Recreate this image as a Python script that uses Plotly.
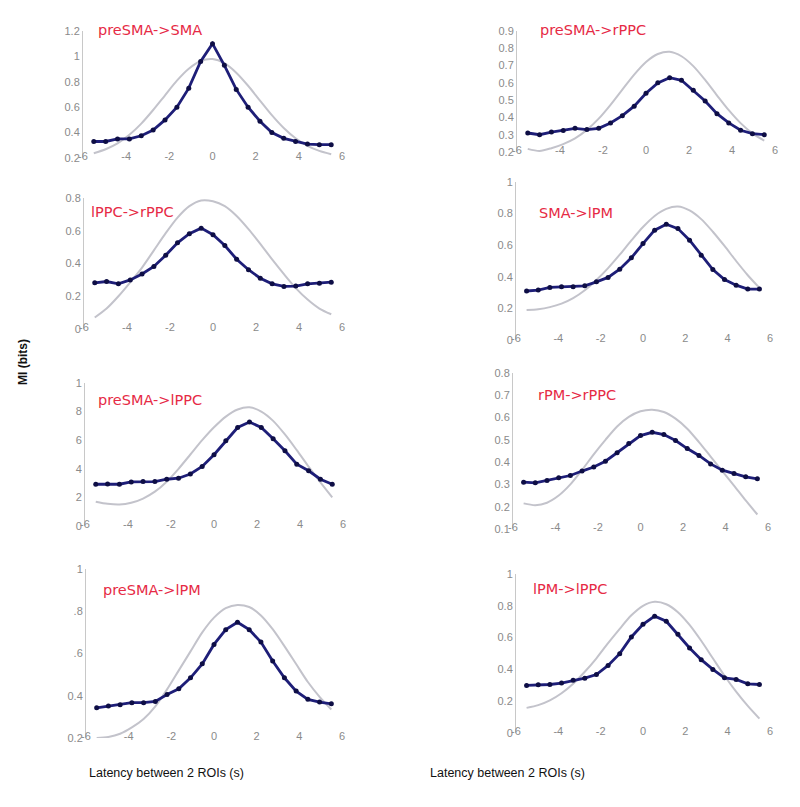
import plotly.graph_objects as go

W, H = 800, 807
OFF = 8  # the page body adds an 8 px margin around the figure

# Latency values (s) of the sampled points
latency = [-5.5, -4.95, -4.4, -3.85, -3.3, -2.75, -2.2, -1.65, -1.1, -0.55, 0.0,
           0.55, 1.1, 1.65, 2.2, 2.75, 3.3, 3.85, 4.4, 4.95, 5.5]

titles = ["preSMA->SMA", "preSMA->rPPC", "lPPC->rPPC", "SMA->lPM",
          "preSMA->lPPC", "rPM->rPPC", "preSMA->lPM", "lPM->lPPC"]

# MI (bits), measured (dark blue, with markers)
mi_presma_sma = [0.33, 0.33, 0.35, 0.35, 0.375, 0.42, 0.50, 0.60, 0.75, 0.96, 1.10,
                 0.93, 0.74, 0.60, 0.49, 0.40, 0.355, 0.33, 0.31, 0.305, 0.305]
mi_presma_rppc = [0.31, 0.30, 0.315, 0.325, 0.337, 0.33, 0.337, 0.368, 0.41, 0.465, 0.54,
                  0.60, 0.63, 0.615, 0.557, 0.495, 0.422, 0.368, 0.326, 0.306, 0.30]
mi_lppc_rppc = [0.282, 0.29, 0.276, 0.30, 0.336, 0.382, 0.45, 0.526, 0.582, 0.616, 0.576,
                0.51, 0.426, 0.362, 0.31, 0.276, 0.26, 0.262, 0.276, 0.28, 0.286]
mi_sma_lpm = [0.31, 0.316, 0.333, 0.337, 0.337, 0.343, 0.368, 0.396, 0.448, 0.52, 0.61,
              0.695, 0.733, 0.705, 0.632, 0.537, 0.446, 0.383, 0.347, 0.322, 0.322]
mi_presma_lppc = [0.292, 0.294, 0.292, 0.308, 0.311, 0.311, 0.327, 0.334, 0.364, 0.416, 0.498,
                  0.596, 0.689, 0.727, 0.689, 0.61, 0.526, 0.432, 0.386, 0.327, 0.292]
mi_rpm_rppc = [0.31, 0.307, 0.318, 0.33, 0.34, 0.36, 0.378, 0.404, 0.442, 0.484, 0.519,
               0.534, 0.524, 0.497, 0.461, 0.43, 0.392, 0.364, 0.349, 0.334, 0.325]
mi_presma_lpm = [0.343, 0.351, 0.357, 0.367, 0.367, 0.373, 0.406, 0.433, 0.485, 0.551, 0.643,
                 0.713, 0.748, 0.713, 0.654, 0.564, 0.485, 0.422, 0.383, 0.37, 0.362]
mi_lpm_lppc = [0.299, 0.303, 0.305, 0.314, 0.331, 0.345, 0.368, 0.425, 0.499, 0.604, 0.684,
               0.735, 0.703, 0.621, 0.535, 0.461, 0.40, 0.347, 0.337, 0.309, 0.305]

# MI (bits), reference curves (light grey, smooth)
ref_presma_sma = [0.238, 0.269, 0.315, 0.383, 0.471, 0.578, 0.694, 0.809, 0.903, 0.964, 0.979,
                  0.947, 0.872, 0.769, 0.652, 0.537, 0.436, 0.355, 0.296, 0.256, 0.23]
ref_presma_rppc = [0.218, 0.206, 0.222, 0.246, 0.279, 0.328, 0.393, 0.473, 0.561, 0.648, 0.721,
                   0.767, 0.78, 0.754, 0.697, 0.617, 0.528, 0.442, 0.367, 0.308, 0.266]
ref_lppc_rppc = [0.07, 0.125, 0.20, 0.285, 0.375, 0.48, 0.585, 0.68, 0.75, 0.785, 0.78,
                 0.75, 0.69, 0.61, 0.52, 0.425, 0.335, 0.25, 0.18, 0.125, 0.09]
ref_sma_lpm = [0.19, 0.195, 0.208, 0.23, 0.265, 0.315, 0.38, 0.455, 0.54, 0.63, 0.715,
               0.785, 0.83, 0.845, 0.82, 0.765, 0.685, 0.595, 0.50, 0.41, 0.33]
ref_presma_lppc = [0.17, 0.155, 0.15, 0.162, 0.192, 0.24, 0.31, 0.40, 0.50, 0.60, 0.69,
                   0.765, 0.815, 0.83, 0.80, 0.735, 0.64, 0.53, 0.415, 0.305, 0.20]
ref_rpm_rppc = [0.215, 0.207, 0.218, 0.25, 0.30, 0.365, 0.435, 0.50, 0.56, 0.603, 0.628,
                0.635, 0.625, 0.595, 0.55, 0.49, 0.425, 0.36, 0.295, 0.228, 0.165]
ref_presma_lpm = [0.20, 0.205, 0.22, 0.25, 0.29, 0.35, 0.43, 0.52, 0.61, 0.70, 0.77,
                  0.815, 0.83, 0.82, 0.78, 0.715, 0.635, 0.55, 0.465, 0.395, 0.335]
ref_lpm_lppc = [0.158, 0.175, 0.205, 0.25, 0.31, 0.385, 0.47, 0.565, 0.655, 0.74, 0.80,
                0.825, 0.81, 0.76, 0.68, 0.58, 0.47, 0.36, 0.26, 0.17, 0.09]

measured = [mi_presma_sma, mi_presma_rppc, mi_lppc_rppc, mi_sma_lpm,
            mi_presma_lppc, mi_rpm_rppc, mi_presma_lpm, mi_lpm_lppc]
reference = [ref_presma_sma, ref_presma_rppc, ref_lppc_rppc, ref_sma_lpm,
             ref_presma_lppc, ref_rpm_rppc, ref_presma_lpm, ref_lpm_lppc]

x_tickvals = [-6, -4, -2, 0, 2, 4, 6]
y_ticks = [
    ([0.2, 0.4, 0.6, 0.8, 1.0, 1.2], ["0.2", "0.4", "0.6", "0.8", "1", "1.2"]),
    ([0.2, 0.3, 0.4, 0.5, 0.6, 0.7, 0.8, 0.9], ["0.2", "0.3", "0.4", "0.5", "0.6", "0.7", "0.8", "0.9"]),
    ([0, 0.2, 0.4, 0.6, 0.8], ["0", "0.2", "0.4", "0.6", "0.8"]),
    ([0, 0.2, 0.4, 0.6, 0.8, 1.0], ["0", "0.2", "0.4", "0.6", "0.8", "1"]),
    ([0, 0.2, 0.4, 0.6, 0.8, 1.0], ["0", "2", "4", "6", "8", "1"]),
    ([0.1, 0.2, 0.3, 0.4, 0.5, 0.6, 0.7, 0.8], ["0.1", "0.2", "0.3", "0.4", "0.5", "0.6", "0.7", "0.8"]),
    ([0.2, 0.4, 0.6, 0.8, 1.0], ["0.2", "0.4", ".6", ".8", "1"]),
    ([0, 0.2, 0.4, 0.6, 0.8, 1.0], ["0", "0.2", "0.4", "0.6", "0.8", "1"]),
]

# panel geometry in page pixels: (x_left, x_right, y_top, y_bottom)
boxes = [
    (83, 342, 31, 158), (517, 775, 31, 152),
    (84, 342, 198, 329), (516, 770, 182, 340),
    (85, 343, 383, 526), (513, 768, 373, 529),
    (86, 342, 569, 738), (516, 770, 574, 733),
]
# title positions (left x, centre y) in page pixels
title_pos = [(97, 30), (539, 30), (90, 212), (538, 213),
             (97, 400), (537, 395), (102, 590), (532, 589)]


def fx(px):
    return (px - OFF) / W


def fy(py):
    return 1 - (py - OFF) / H


fig = go.Figure()
layout = {}
tick_font = dict(family="Liberation Sans, Arial, sans-serif", size=11, color="#8a8a8a")

for i in range(8):
    n = "" if i == 0 else str(i + 1)
    xl, xr, yt, yb = boxes[i]
    tv, tt = y_ticks[i]
    fig.add_trace(go.Scatter(
        x=latency, y=reference[i], mode="lines",
        line=dict(color="#c3c3cb", width=2, shape="spline", smoothing=0.8),
        xaxis="x" + n, yaxis="y" + n, showlegend=False, hoverinfo="skip"))
    fig.add_trace(go.Scatter(
        x=latency, y=measured[i], mode="lines+markers",
        line=dict(color="#1e1e78", width=2.8),
        marker=dict(color="#0e0e45", size=5),
        xaxis="x" + n, yaxis="y" + n, showlegend=False))
    layout["xaxis" + n] = dict(
        domain=[fx(xl), fx(xr)], range=[-6, 6], anchor="y" + n,
        tickvals=x_tickvals, ticktext=[str(v) for v in x_tickvals],
        showgrid=False, zeroline=False, showline=False, ticks="",
        tickfont=tick_font, ticklabelstandoff=-10)
    layout["yaxis" + n] = dict(
        domain=[fy(yb), fy(yt)], range=[tv[0], tv[-1]], anchor="x" + n,
        tickvals=tv, ticktext=tt,
        showgrid=False, zeroline=False, showline=True, linecolor="#c8c8c8", linewidth=1,
        ticks="", tickfont=tick_font)

annotations = []
for i in range(8):
    px, py = title_pos[i]
    annotations.append(dict(
        text=titles[i], x=fx(px), y=fy(py), xref="paper", yref="paper",
        xanchor="left", yanchor="middle", showarrow=False, borderpad=0,
        font=dict(family="DejaVu Sans, sans-serif", size=14.5, color="#e62a45")))

for cx in (166, 507):
    annotations.append(dict(
        text="Latency between 2 ROIs (s)", x=fx(cx), y=fy(773), xref="paper", yref="paper",
        xanchor="center", yanchor="middle", showarrow=False,
        font=dict(family="Liberation Sans, Arial, sans-serif", size=12.5, color="#111111")))

annotations.append(dict(
    text="<b>MI (bits)</b>", x=fx(23), y=fy(362), xref="paper", yref="paper",
    xanchor="center", yanchor="middle", showarrow=False, textangle=-90,
    font=dict(family="Liberation Sans, Arial, sans-serif", size=12, color="#111111")))

fig.update_layout(
    width=W, height=H, margin=dict(l=0, r=0, t=0, b=0, autoexpand=False),
    paper_bgcolor="white", plot_bgcolor="white",
    annotations=annotations, **layout)

fig.write_html("out.html")
